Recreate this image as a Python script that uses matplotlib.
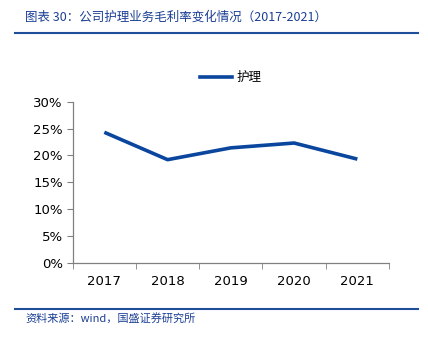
import matplotlib
matplotlib.use("Agg")
import matplotlib.pyplot as plt
from matplotlib.lines import Line2D
from matplotlib.ticker import FixedLocator

plt.rcParams['font.family'] = ['DejaVu Sans', 'Noto Sans CJK SC']

years = ['2017', '2018', '2019', '2020', '2021']
margin = [24.3, 19.2, 21.4, 22.3, 19.3]
yticks = [0, 5, 10, 15, 20, 25, 30]
series_name = '护理'
title = '图表 30：公司护理业务毛利率变化情况（2017-2021）'
source = '资料来源：wind，国盛证券研究所'

W, H = 428, 342
fig = plt.figure(figsize=(W / 100, H / 100), dpi=100)

ax = fig.add_axes([72.7 / W, 1 - 262.7 / H, (389 - 72.7) / W, (262.7 - 101.7) / H])
x = list(range(len(years)))
line_color = '#0A469E'
ax.plot(x, margin, color=line_color, lw=2.6, solid_capstyle='butt')
ax.set_xlim(-0.5, len(years) - 0.5)
ax.set_ylim(0, 30)
ax.set_yticks(yticks)
ax.set_yticklabels([f'{v}%' for v in yticks], fontsize=9.5)
ax.set_xticks(x)
ax.set_xticklabels(years, fontsize=9.5)
ax.xaxis.set_minor_locator(FixedLocator([i + 0.5 for i in range(-1, len(years))]))
ax.tick_params(axis='x', which='major', length=0, pad=9)
ax.tick_params(axis='x', which='minor', length=4, direction='out', color='#808080')
ax.tick_params(axis='y', length=4, direction='out', color='#808080', pad=3)
for s in ['top', 'right']:
    ax.spines[s].set_visible(False)
for s in ['left', 'bottom']:
    ax.spines[s].set_color('#808080')
    ax.spines[s].set_linewidth(0.9)

# legend
lx0, lx1, ly = 200 / W, 232 / W, 1 - 77 / H
fig.add_artist(Line2D([lx0, lx1], [ly, ly], color=line_color, lw=2.6, transform=fig.transFigure))
fig.text(236 / W, ly, series_name, fontsize=9, va='center', ha='left',
         family=['Noto Sans CJK SC', 'DejaVu Sans'])

# title and rules
title_color = '#1B3F95'
fig.text(25 / W, 1 - 17 / H, title, fontsize=9, va='center', ha='left', color=title_color,
         family=['Noto Sans CJK SC', 'DejaVu Sans'], style='italic')
fig.add_artist(Line2D([15 / W, 418 / W], [1 - 33 / H, 1 - 33 / H], color='#1F4E9A', lw=1.5,
                      transform=fig.transFigure))
fig.add_artist(Line2D([15 / W, 418 / W], [1 - 308.5 / H, 1 - 308.5 / H], color='#1F4E9A', lw=1.5,
                      transform=fig.transFigure))
fig.text(25 / W, 1 - 318 / H, source, fontsize=8, va='center', ha='left', color=title_color,
         family=['Noto Sans CJK SC', 'DejaVu Sans'], style='italic')

fig.savefig('out.png', dpi=100)
